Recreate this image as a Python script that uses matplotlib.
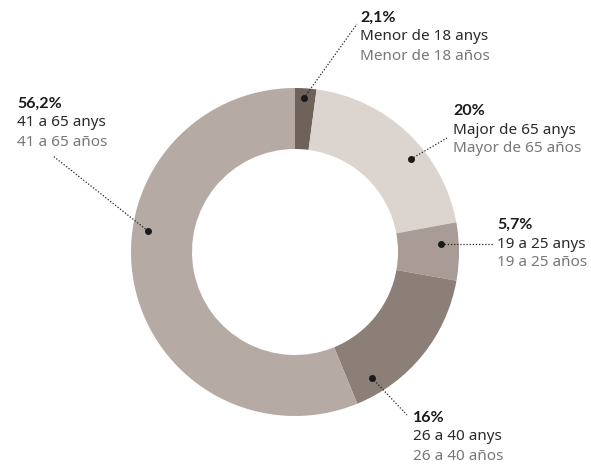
import matplotlib.pyplot as plt

# slices, clockwise from 12 o'clock
shares = [2.1, 20, 5.7, 16, 56.2]
pct_labels = ['2,1%', '20%', '5,7%', '16%', '56,2%']
labels_ca = ['Menor de 18 anys', 'Major de 65 anys', '19 a 25 anys', '26 a 40 anys', '41 a 65 anys']
labels_es = ['Menor de 18 años', 'Mayor de 65 años', '19 a 25 años', '26 a 40 años', '41 a 65 años']
colors = ['#6f625a', '#dcd4cf', '#a99c96', '#8b7f77', '#b5aaa4']

plt.rcParams['font.family'] = ['Noto Sans', 'DejaVu Sans']

W, H = 591, 469
fig = plt.figure(figsize=(W / 100, H / 100), dpi=100)

# pie in a y-up axes laid over the whole figure in pixel units
pax = fig.add_axes([0, 0, 1, 1])
cx, cy, R = 295, H - 252, 164
pax.pie(shares, colors=colors, startangle=90, counterclock=False,
        center=(cx, cy), radius=R, frame=True,
        wedgeprops=dict(width=61, linewidth=0))
pax.set_xlim(0, W)
pax.set_ylim(0, H)
pax.set_aspect('equal')
pax.axis('off')

# annotations on top, y down
ax = fig.add_axes([0, 0, 1, 1])
ax.set_xlim(0, W)
ax.set_ylim(H, 0)
ax.patch.set_alpha(0)
ax.axis('off')

# dot position, leader end, text anchor (pixel coords)
dots = [(304, 98), (411, 159), (441, 244), (372, 378), (148, 231)]
ends = [(357, 24), (447, 138), (493, 244), (407, 415), (53, 156)]
texts = [(360, 18), (453, 111), (497, 225), (413, 418), (17, 104)]

for i in range(len(shares)):
    dx, dy = dots[i]
    ex, ey = ends[i]
    ax.plot([dx, ex], [dy, ey], color='#222222', lw=0.9, ls=(0, (1, 1.5)), zorder=3)
    ax.plot(dx, dy, 'o', color='#1a1a1a', ms=4, zorder=4)
    tx, ty = texts[i]
    ax.text(tx, ty, pct_labels[i], fontsize=11.5, fontweight='bold', family=['Lato', 'DejaVu Sans'],
            color='#1a1a1a', va='center', ha='left')
    ax.text(tx, ty + 19, labels_ca[i], fontsize=11, color='#2a2a2a', va='center', ha='left')
    ax.text(tx, ty + 38, labels_es[i], fontsize=11, color='#777777', va='center', ha='left')

fig.savefig('out.png', dpi=100)
